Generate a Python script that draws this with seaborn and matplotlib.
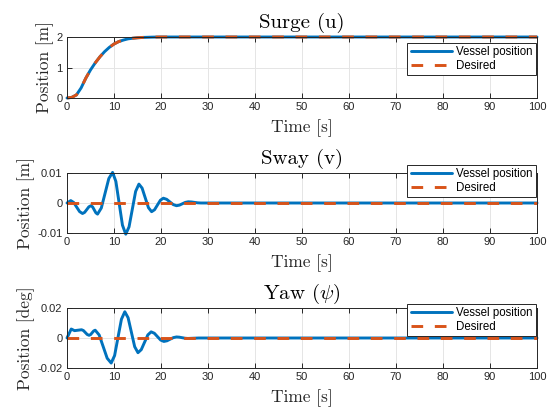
import numpy as np
import pandas as pd
import matplotlib
matplotlib.use("Agg")
import matplotlib.pyplot as plt
import seaborn as sns

# ---------------- data ----------------
x_ticks = [0, 10, 20, 30, 40, 50, 60, 70, 80, 90, 100]

surge_t = [0, 1, 2, 3, 4, 5, 6, 7, 8, 9, 10, 11, 12, 13, 14, 15, 16, 17, 18, 19, 20,
           25, 30, 40, 50, 60, 70, 80, 90, 100]
surge_vessel = [0, 0.02, 0.1, 0.33, 0.65, 0.92, 1.15, 1.35, 1.52, 1.66, 1.77, 1.85, 1.9,
                1.94, 1.96, 1.975, 1.985, 1.99, 1.995, 1.998, 2.0,
                2.0, 2.0, 2.0, 2.0, 2.0, 2.0, 2.0, 2.0, 2.0]
surge_desired = [0, 0.02, 0.1, 0.33, 0.65, 0.92, 1.15, 1.35, 1.52, 1.66, 1.77, 1.85, 1.9,
                 1.94, 1.96, 1.975, 1.985, 1.99, 1.995, 1.998, 2.0,
                 2.0, 2.0, 2.0, 2.0, 2.0, 2.0, 2.0, 2.0, 2.0]

sway_t = [0, 0.4, 0.8, 1.43, 2.05, 2.68, 3.3, 3.75, 4.2, 4.65, 5.1, 5.45, 5.8, 6.15, 6.5,
          7.3, 8.1, 8.9, 9.7, 10.4, 11.1, 11.8, 12.5, 13.2, 13.9, 14.6, 15.3,
          15.98, 16.65, 17.33, 18.0, 18.63, 19.25, 19.88, 20.5, 21.2, 21.9, 22.6, 23.3,
          23.93, 24.55, 25.18, 25.8, 26.5, 27.15, 27.8, 28.5,
          30, 40, 50, 60, 70, 80, 90, 100]
sway_vessel = [0, 0.0004, 0.0008, 0.00017, -0.00135, -0.00287, -0.0035, -0.00312, -0.0022,
               -0.00128, -0.0009, -0.00131, -0.0023, -0.00329, -0.0037,
               -0.00167, 0.00325, 0.00817, 0.0102, 0.00719, -0.0001, -0.00739, -0.0104,
               -0.00796, -0.00205, 0.00386, 0.0063, 0.00496, 0.0017, -0.00156, -0.0029,
               -0.00224, -0.00065, 0.00094, 0.0016, 0.00123, 0.00035, -0.00053, -0.0009,
               -0.00071, -0.00025, 0.00021, 0.0004, 0.00034, 0.0002, 0.00006, 0.0,
               0, 0, 0, 0, 0, 0, 0, 0]
sway_desired_t = [0, 100]
sway_desired = [0, 0]

yaw_t = [0, 0.45, 0.9, 1.25, 1.6, 2.35, 3.1, 3.5, 3.9, 4.3, 4.7, 5.03, 5.35, 5.68, 6.0,
         6.85, 7.7, 8.55, 9.4, 10.13, 10.85, 11.58, 12.3, 13.0, 13.7, 14.4, 15.1,
         15.8, 16.5, 17.2, 17.9, 18.58, 19.25, 19.93, 20.6, 21.28, 21.95, 22.63, 23.3,
         23.9, 24.5, 25.1, 25.7, 26.85, 28,
         30, 40, 50, 60, 70, 80, 90, 100]
yaw_vessel = [0, 0.003, 0.006, 0.00545, 0.0049, 0.0052, 0.0055, 0.00496, 0.00365, 0.00234,
              0.0018, 0.0023, 0.0035, 0.0047, 0.0052,
              0.002, -0.00575, -0.0135, -0.0167, -0.0117, 0.0004, 0.0125, 0.0175,
              0.0135, 0.00385, -0.0058, -0.0098, -0.00777, -0.00285, 0.00207, 0.0041,
              0.00317, 0.0009, -0.00137, -0.0023, -0.00186, -0.0008, 0.00026, 0.0007,
              0.00055, 0.0002, -0.00015, -0.0003, -0.00015, 0.0,
              0, 0, 0, 0, 0, 0, 0, 0]
yaw_desired_t = [0, 100]
yaw_desired = [0, 0]

panels = [
    dict(title="Surge (u)", ylabel="Position [m]",
         t=surge_t, v=surge_vessel, td=surge_t, d=surge_desired,
         ylim=(0, 2), yticks=[0, 1, 2], yticklabels=["0", "1", "2"], leg_top=1 - 6 / 61),
    dict(title="Sway (v)", ylabel="Position [m]",
         t=sway_t, v=sway_vessel, td=sway_desired_t, d=sway_desired,
         ylim=(-0.01, 0.01), yticks=[-0.01, 0, 0.01], yticklabels=["-0.01", "0", "0.01"],
         leg_top=1 + 8 / 60),
    dict(title=r"Yaw ($\psi$)", ylabel="Position [deg]",
         t=yaw_t, v=yaw_vessel, td=yaw_desired_t, d=yaw_desired,
         ylim=(-0.02, 0.02), yticks=[-0.02, 0, 0.02], yticklabels=["-0.02", "0", "0.02"],
         leg_top=1 + 4 / 60),
]

# ---------------- style ----------------
sns.set_theme(style="ticks")
plt.rcParams["mathtext.fontset"] = "cm"
plt.rcParams["axes.unicode_minus"] = False
plt.rcParams["font.family"] = ["Liberation Sans", "DejaVu Sans"]

BLUE = "#0072BD"
ORANGE = "#D95319"
DARK = "#262626"
SERIF = "cmr10"

fig = plt.figure(figsize=(5.55, 4.12), dpi=100)
W, H = 555, 412
boxes = [(67, 37, 537, 98), (67, 173, 537, 233), (67, 308, 537, 368)]

for p, (x0, y0, x1, y1) in zip(panels, boxes):
    ax = fig.add_axes([x0 / W, 1 - y1 / H, (x1 - x0) / W, (y1 - y0) / H])
    df_v = pd.DataFrame({"t": p["t"], "val": p["v"]})
    df_d = pd.DataFrame({"t": p["td"], "val": p["d"]})
    sns.lineplot(data=df_v, x="t", y="val", ax=ax, color=BLUE, linewidth=2.1,
                 label="Vessel position", sort=False, estimator=None, clip_on=False)
    sns.lineplot(data=df_d, x="t", y="val", ax=ax, color=ORANGE, linewidth=2.1,
                 linestyle=(0, (4.0, 4.0)), label="Desired", sort=False, estimator=None,
                 clip_on=False)
    ax.set_xlim(0, 100)
    ax.set_ylim(*p["ylim"])
    ax.set_xticks(x_ticks)
    ax.set_xticklabels([str(x) for x in x_ticks])
    ax.set_yticks(p["yticks"])
    ax.set_yticklabels(p["yticklabels"])
    ax.grid(True, color="#e5e5e5", linewidth=0.7)
    ax.set_axisbelow(True)
    for s in ax.spines.values():
        s.set_color(DARK)
        s.set_linewidth(0.7)
    ax.tick_params(direction="in", length=3.5, width=0.7, color=DARK,
                   labelsize=8, labelcolor=DARK, top=True, right=True, pad=3.2)
    ax.set_title(p["title"], fontfamily=SERIF, fontsize=15, color="black", pad=6.5)
    ax.set_xlabel("Time [s]", fontfamily=SERIF, fontsize=12.5, color=DARK, labelpad=5)
    ax.set_ylabel(p["ylabel"], fontfamily=SERIF, fontsize=12.5, color=DARK, labelpad=2)
    leg = ax.legend(loc="upper right", bbox_to_anchor=(1.0 - 1 / 470, p["leg_top"]),
                    borderaxespad=0, fontsize=8.3, handlelength=3.6, handletextpad=0.35,
                    labelspacing=0.12, borderpad=0.3, fancybox=False, framealpha=1,
                    edgecolor=DARK)
    leg.get_frame().set_linewidth(0.7)
    leg.set_zorder(5)
    for txt in leg.get_texts():
        txt.set_color("black")

fig.savefig("out.png", dpi=100)
